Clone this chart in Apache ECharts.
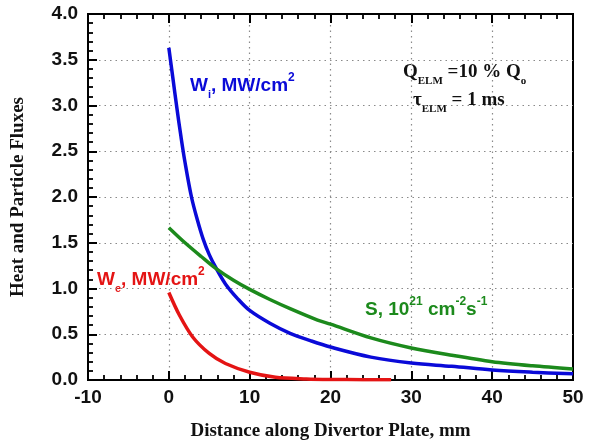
<!DOCTYPE html>
<html>
<head>
<meta charset="utf-8">
<script src="https://cdn.jsdelivr.net/npm/echarts@6/dist/echarts.min.js"></script>
<style>
  html, body { margin: 0; padding: 0; background: #fff; }
  #container { width: 589px; height: 447px; }
</style>
</head>
<body>
<div id="container"></div>
<script>
// distance along plate (mm) and fluxes
var wiX = [0, 0.5, 1, 1.5, 2, 2.8, 3.5, 4.25, 5, 5.8, 7, 8.5, 10, 12.5, 15, 17.5, 20, 25, 30, 35, 40, 45, 50];
var wiY = [3.63, 3.3, 2.97, 2.66, 2.38, 2.0, 1.76, 1.54, 1.37, 1.23, 1.05, 0.89, 0.76, 0.62, 0.51, 0.43, 0.36, 0.25, 0.185, 0.15, 0.11, 0.085, 0.067];

var sX = [0, 2, 4, 5.8, 8, 10, 12.5, 15, 18.4, 20, 25, 30, 35, 40, 45, 50];
var sY = [1.665, 1.5, 1.35, 1.22, 1.09, 0.99, 0.88, 0.78, 0.655, 0.61, 0.46, 0.35, 0.27, 0.2, 0.155, 0.12];

var weX = [0, 1.3, 2.95, 5, 7, 10, 13.2, 17, 20, 24, 27.5];
var weY = [0.956, 0.71, 0.47, 0.29, 0.18, 0.085, 0.03, 0.012, 0.006, 0.003, 0.002];

var xTicks = [-10, 0, 10, 20, 30, 40, 50];
var yTicks = [0, 0.5, 1, 1.5, 2, 2.5, 3, 3.5, 4];

function pairs(xs, ys) {
    var out = [];
    for (var i = 0; i < xs.length; i++) out.push([xs[i], ys[i]]);
    return out;
}

var dom = document.getElementById("container");
var myChart = echarts.init(dom);

var sans = 'Liberation Sans, Arial, sans-serif';
var serif = 'Liberation Serif, Times New Roman, serif';
var grey = '#8a8a8a';

function frame() { return { show: true, onZero: false, lineStyle: { color: '#000', width: 2 } }; }
function ticks() { return { show: true, inside: true, length: 9, lineStyle: { color: '#000', width: 2 } }; }
function minor() { return { show: true, splitNumber: 5, length: 5, lineStyle: { color: '#000', width: 1.8 } }; }

// dotted grid only on the inner major ticks
function innerGrid(n) {
    var c = [];
    for (var i = 0; i < n; i++) c.push(i === 0 || i === n - 1 ? 'transparent' : grey);
    return { show: true, lineStyle: { color: c, type: [1.5, 4], width: 1.2 } };
}

function sub(color, family) {
    return {
        a: { fontFamily: family, fontWeight: 'bold', fontSize: 19, fill: color, lineHeight: 28, verticalAlign: 'middle' },
        b: { fontFamily: family, fontWeight: 'bold', fontSize: 11, fill: color, verticalAlign: 'bottom' },
        c: { fontFamily: family, fontWeight: 'bold', fontSize: 12, fill: color, verticalAlign: 'top' }
    };
}

var option = {
    animation: false,
    grid: { left: 88, right: 16, top: 14, bottom: 67, show: true, borderColor: '#000', borderWidth: 2 },
    xAxis: [
        {
            type: 'value',
            min: xTicks[0],
            max: xTicks[xTicks.length - 1],
            interval: 10,
            name: 'Distance along Divertor Plate, mm',
            nameLocation: 'middle',
            nameGap: 42,
            nameTextStyle: { fontFamily: serif, fontWeight: 'bold', fontSize: 19, color: '#111' },
            axisLine: frame(),
            axisTick: ticks(),
            minorTick: minor(),
            axisLabel: { fontFamily: sans, fontWeight: 'bold', fontSize: 19, color: '#111', margin: 8 },
            splitLine: innerGrid(xTicks.length)
        },
        {
            type: 'value',
            position: 'top',
            min: xTicks[0],
            max: xTicks[xTicks.length - 1],
            interval: 10,
            axisLine: frame(),
            axisTick: ticks(),
            minorTick: minor(),
            axisLabel: { show: false },
            splitLine: { show: false }
        }
    ],
    yAxis: {
        type: 'value',
        min: yTicks[0],
        max: yTicks[yTicks.length - 1],
        interval: 0.5,
        name: 'Heat and Particle Fluxes',
        nameLocation: 'middle',
        nameGap: 60,
        nameTextStyle: { fontFamily: serif, fontWeight: 'bold', fontSize: 19, color: '#111' },
        axisLine: frame(),
        axisTick: ticks(),
        minorTick: minor(),
        axisLabel: {
            fontFamily: sans, fontWeight: 'bold', fontSize: 19, color: '#111', margin: 10,
            formatter: function (v) { return v.toFixed(1); }
        },
        splitLine: innerGrid(yTicks.length)
    },
    series: [
        {
            name: 'Wi',
            type: 'line',
            smooth: 0.35,
            showSymbol: false,
            lineStyle: { color: '#0a0ad8', width: 3.5 },
            data: pairs(wiX, wiY)
        },
        {
            name: 'S',
            type: 'line',
            smooth: 0.3,
            showSymbol: false,
            lineStyle: { color: '#1c8a1c', width: 3.5 },
            data: pairs(sX, sY)
        },
        {
            name: 'We',
            type: 'line',
            smooth: 0.3,
            showSymbol: false,
            lineStyle: { color: '#e41414', width: 3.5 },
            data: pairs(weX, weY)
        }
    ],
    graphic: [
        {
            type: 'text', left: 190, top: 72,
            style: { text: '{a|W}{b|i}{a|, MW/cm}{c|2}', rich: sub('#0a0ad8', sans) }
        },
        {
            type: 'text', left: 97, top: 266,
            style: { text: '{a|W}{b|e}{a|, MW/cm}{c|2}', rich: sub('#e41414', sans) }
        },
        {
            type: 'text', left: 365, top: 296,
            style: { text: '{a|S, 10}{c|21}{a| cm}{c|-2}{a|s}{c|-1}', rich: sub('#1c8a1c', sans) }
        },
        {
            type: 'text', left: 403, top: 63,
            style: { text: '{a|Q}{b|ELM}{a| =10 % Q}{b|o}', rich: sub('#111', serif) }
        },
        {
            type: 'text', left: 413, top: 91,
            style: { text: '{a|τ}{b|ELM}{a| = 1 ms}', rich: sub('#111', serif) }
        }
    ]
};

if (option && typeof option === "object") {
    myChart.setOption(option, false);
}
</script>
</body>
</html>
